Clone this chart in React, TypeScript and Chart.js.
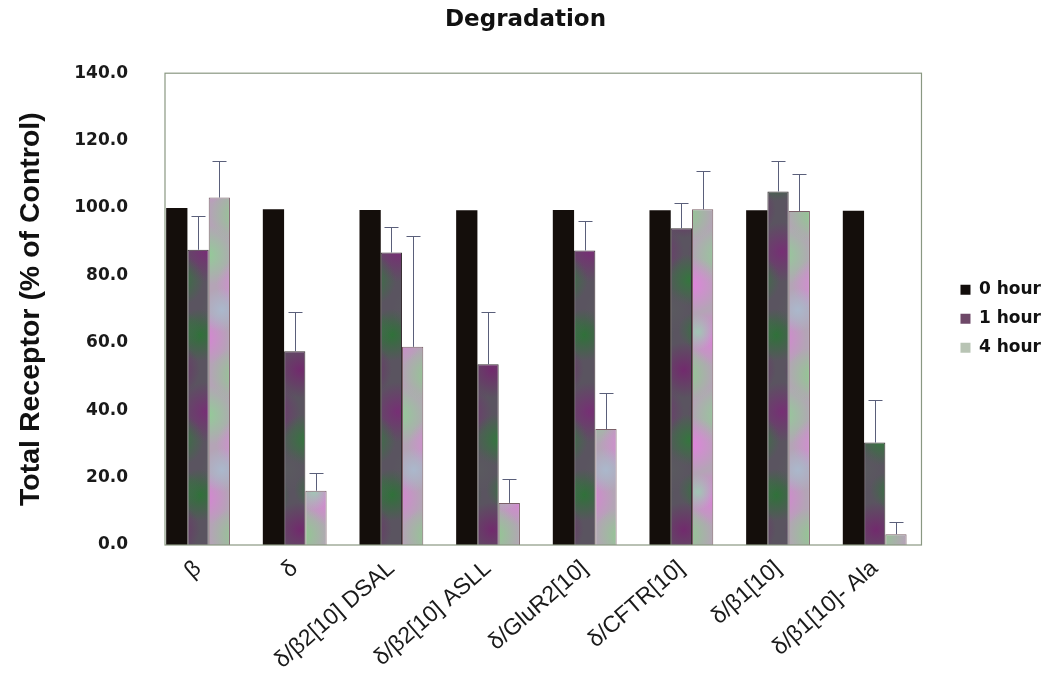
import React, { useEffect, useRef } from 'react';
import { Chart, registerables } from 'chart.js';

Chart.register(...registerables);

const categories = [
  'β',
  'δ',
  'δ/β2[10] DSAL',
  'δ/β2[10] ASLL',
  'δ/GluR2[10]',
  'δ/CFTR[10]',
  'δ/β1[10]',
  'δ/β1[10]- Ala',
];
const seriesNames = ['0 hour', '1 hour', '4 hour'];
const hour0 = [100, 99.6, 99.4, 99.3, 99.4, 99.3, 99.3, 99.2];
const hour1 = [87.6, 57.5, 86.8, 53.6, 87.4, 94.0, 104.9, 30.4];
const hour1Err = [10.0, 11.6, 7.5, 15.5, 8.7, 7.4, 8.9, 12.6];
const hour4 = [103.1, 16.1, 58.8, 12.5, 34.4, 99.6, 99.1, 3.2];
const hour4Err = [10.8, 5.4, 32.8, 7.2, 10.8, 11.3, 10.9, 3.6];
const yTicks = [0, 20, 40, 60, 80, 100, 120, 140];
const legendColors = ['#120d0b', '#6e4868', '#b8c4b4'];

type Blob = [number, number, number, [number, number, number]];

const blobs1h: Blob[] = [
  [8, 15, 26, [45, 115, 55]],
  [44, 50, 28, [115, 40, 110]],
  [14, 92, 30, [120, 45, 118]],
  [50, 120, 26, [50, 120, 60]],
  [30, 150, 22, [90, 90, 95]],
  [56, 10, 18, [60, 110, 70]],
];
const blobs4h: Blob[] = [
  [10, 18, 28, [222, 125, 218]],
  [46, 55, 28, [140, 205, 140]],
  [16, 95, 30, [145, 205, 150]],
  [52, 125, 28, [225, 130, 222]],
  [30, 150, 22, [170, 185, 205]],
  [58, 12, 18, [160, 200, 180]],
];

function mottled(base: string, blobs: Blob[]) {
  const w = 64;
  const h = 160;
  const c = document.createElement('canvas');
  c.width = w;
  c.height = h;
  const g = c.getContext('2d')!;
  g.fillStyle = base;
  g.fillRect(0, 0, w, h);
  for (const [x, y, r, col] of blobs) {
    for (const dx of [-w, 0, w]) {
      for (const dy of [-h, 0, h]) {
        const cx = x + dx;
        const cy = y + dy;
        const grad = g.createRadialGradient(cx, cy, 0, cx, cy, r);
        grad.addColorStop(0, `rgba(${col[0]},${col[1]},${col[2]},0.95)`);
        grad.addColorStop(1, `rgba(${col[0]},${col[1]},${col[2]},0)`);
        g.fillStyle = grad;
        g.fillRect(cx - r, cy - r, 2 * r, 2 * r);
      }
    }
  }
  return g.createPattern(c, 'repeat')!;
}

const errorBars = {
  id: 'errorBars',
  afterDatasetsDraw(chart: any) {
    const ctx = chart.ctx;
    const yScale = chart.scales.y;
    const sets: Array<[number, number[], number[]]> = [
      [1, hour1, hour1Err],
      [2, hour4, hour4Err],
    ];
    ctx.save();
    ctx.strokeStyle = '#5a5f7a';
    ctx.lineWidth = 1;
    for (const [di, vals, errs] of sets) {
      const meta = chart.getDatasetMeta(di);
      meta.data.forEach((bar: any, i: number) => {
        const x = Math.round(bar.x) + 0.5;
        const yTop = yScale.getPixelForValue(vals[i]);
        const yErr = Math.round(yScale.getPixelForValue(vals[i] + errs[i])) + 0.5;
        ctx.beginPath();
        ctx.moveTo(x, yTop);
        ctx.lineTo(x, yErr);
        ctx.moveTo(x - 7, yErr);
        ctx.lineTo(x + 7, yErr);
        ctx.stroke();
      });
    }
    ctx.restore();
  },
};

const plotBox = {
  id: 'plotBox',
  afterDraw(chart: any) {
    const { left, top, right, bottom } = chart.chartArea;
    const ctx = chart.ctx;
    ctx.save();
    ctx.strokeStyle = '#8a9882';
    ctx.lineWidth = 1.2;
    ctx.strokeRect(left, top, right - left, bottom - top);
    ctx.restore();
  },
};

export default function App() {
  const ref = useRef<HTMLCanvasElement | null>(null);

  useEffect(() => {
    if (!ref.current) return;
    Chart.defaults.font.family = "'Liberation Sans', Arial, sans-serif";
    const p1 = mottled('#5a5460', blobs1h);
    const p4 = mottled('#b4a4b6', blobs4h);
    const chart = new Chart(ref.current, {
      type: 'bar',
      data: {
        datasets: [
          {
            label: seriesNames[0],
            data: hour0.map((v, i) => ({ x: i, y: v })),
            backgroundColor: '#140e0b',
            borderWidth: 0,
          },
          {
            label: seriesNames[1],
            data: hour1.map((v, i) => ({ x: i, y: v })),
            backgroundColor: p1 as any,
            borderColor: '#3a3034',
            borderWidth: 1,
          },
          {
            label: seriesNames[2],
            data: hour4.map((v, i) => ({ x: i, y: v })),
            backgroundColor: p4 as any,
            borderColor: '#7a6068',
            borderWidth: 1,
          },
        ] as any,
      },
      options: {
        animation: false,
        responsive: true,
        maintainAspectRatio: false,
        layout: { padding: 0 },
        datasets: {
          bar: { categoryPercentage: 0.66, barPercentage: 1.0 },
        },
        scales: {
          x: {
            type: 'linear',
            min: -0.342,
            max: 7.484,
            offset: false,
            grid: { display: false, drawTicks: false, offset: false },
            border: { display: false },
            afterBuildTicks: (s: any) => {
              s.ticks = categories.map((_, i) => ({ value: i }));
            },
            afterFit: (s: any) => {
              s.height = 145;
            },
            ticks: {
              autoSkip: false,
              minRotation: 41,
              maxRotation: 41,
              padding: 10,
              color: '#1a1a1a',
              font: { family: "'Liberation Sans', Arial, sans-serif", size: 23 },
              callback: (v: any) => categories[v] ?? '',
            },
          },
          y: {
            type: 'linear',
            min: 0,
            max: 140,
            grid: { display: false, drawTicks: false },
            border: { display: false },
            afterBuildTicks: (s: any) => {
              s.ticks = yTicks.map((v) => ({ value: v }));
            },
            afterFit: (s: any) => {
              s.width = 165;
            },
            ticks: {
              padding: 37,
              color: '#1a1a1a',
              font: { family: "'DejaVu Sans', sans-serif", size: 17, weight: 'bold' },
              callback: (v: any) => Number(v).toFixed(1),
            },
            title: {
              display: true,
              text: 'Total Receptor (% of Control)',
              color: '#111',
              padding: { top: 14, bottom: 0 },
              font: { family: "'Liberation Sans', Arial, sans-serif", size: 28.5, weight: 'bold' },
            },
          },
          pad: {
            type: 'linear',
            position: 'right',
            display: true,
            min: 0,
            max: 1,
            grid: { display: false, drawTicks: false },
            border: { display: false },
            ticks: { display: false },
            afterFit: (s: any) => {
              s.width = 27;
            },
          },
        } as any,
        plugins: {
          title: {
            display: true,
            text: 'Degradation',
            color: '#111',
            font: { family: "'DejaVu Sans', sans-serif", size: 23, weight: 'bold' },
            padding: { top: 6, bottom: 39.6 },
          },
          legend: {
            position: 'right',
            fullSize: false,
            title: {
              display: true,
              text: ' ',
              padding: 0,
              font: { size: 16 },
            },
            labels: {
              boxWidth: 10,
              boxHeight: 10,
              padding: 12,
              color: '#111',
              font: { family: "'DejaVu Sans', sans-serif", size: 17, weight: 'bold' },
              generateLabels: () =>
                seriesNames.map((n, i) => ({
                  text: n,
                  fillStyle: legendColors[i],
                  strokeStyle: legendColors[i],
                  lineWidth: 0,
                  hidden: false,
                  datasetIndex: i,
                  fontColor: '#111',
                })),
            },
          },
          tooltip: { enabled: false },
        },
      },
      plugins: [errorBars, plotBox],
    });
    return () => chart.destroy();
  }, []);

  return (
    <div style={{ position: 'absolute', left: 0, top: 0, width: 1051, height: 690, background: '#fff' }}>
      <canvas ref={ref} />
    </div>
  );
}
